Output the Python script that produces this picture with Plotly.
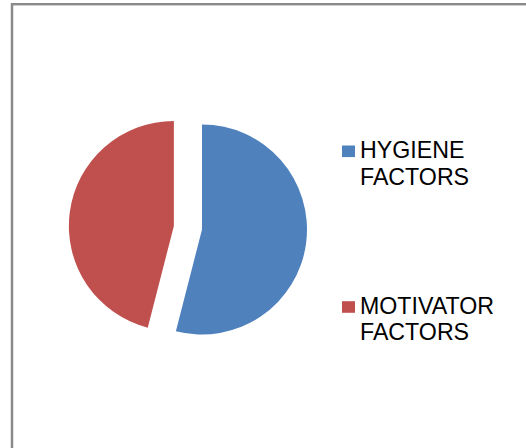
import plotly.graph_objects as go

# ---- data ----
labels = ["HYGIENE FACTORS", "MOTIVATOR FACTORS"]
values = [54, 46]
colors = ["#4F81BD", "#C0504D"]
pulls = [0, 0.27]

W, H = 526, 448

def px(x):
    return x / W

def py(y):
    return 1 - y / H

fig = go.Figure(
    go.Pie(
        labels=labels,
        values=values,
        marker=dict(colors=colors, line=dict(width=0)),
        pull=pulls,
        sort=False,
        direction="clockwise",
        rotation=0,
        textinfo="none",
        hoverinfo="label+percent",
        showlegend=False,
        domain=dict(x=[px(62), px(342)], y=[py(362.85), py(96.15)]),
    )
)

shapes = []
annotations = []

# frame (only top and left edges visible in the crop)
shapes.append(dict(type="line", xref="paper", yref="paper",
                   x0=px(12), x1=px(540), y0=py(4), y1=py(4),
                   line=dict(color="#8a8a8a", width=2)))
shapes.append(dict(type="line", xref="paper", yref="paper",
                   x0=px(12), x1=px(540), y0=py(5.5), y1=py(5.5),
                   line=dict(color="#cfcfcf", width=1)))
shapes.append(dict(type="line", xref="paper", yref="paper",
                   x0=px(12), x1=px(12), y0=py(3), y1=py(460),
                   line=dict(color="#8a8a8a", width=2.5)))

# custom legend
legend_rows = [151.3, 307.0]
line_gap = 26.7
for lab, col, yc in zip(labels, colors, legend_rows):
    shapes.append(dict(type="rect", xref="paper", yref="paper",
                       x0=px(342), x1=px(355), y0=py(yc - 5.8), y1=py(yc + 5.8),
                       fillcolor=col, line=dict(width=0)))
    for i, word in enumerate(lab.split(" ")):
        annotations.append(dict(
            text=word, xref="paper", yref="paper",
            x=px(359), y=py(yc - 1.5 + i * line_gap),
            xanchor="left", yanchor="middle", showarrow=False,
            borderpad=0,
            font=dict(family="Liberation Sans, Arial, sans-serif", size=23.2, color="#000000"),
        ))

fig.update_layout(
    width=W, height=H,
    margin=dict(l=0, r=0, t=0, b=0),
    paper_bgcolor="white",
    plot_bgcolor="white",
    showlegend=False,
    shapes=shapes,
    annotations=annotations,
)

fig.write_html("out.html")
